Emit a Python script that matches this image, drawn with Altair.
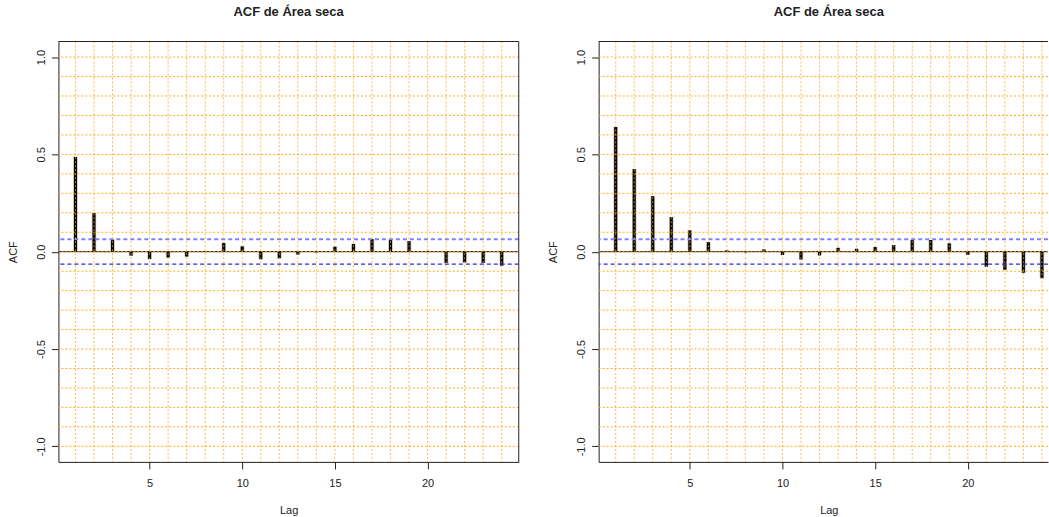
import altair as alt
import pandas as pd

# Autocorrelation estimates for lags 1..24 of the two series
lags = list(range(1, 25))
acf_left = [0.487, 0.199, 0.062, -0.020, -0.038, -0.030, -0.025, 0.002,
            0.045, 0.028, -0.039, -0.034, -0.015, -0.003, 0.026, 0.040,
            0.065, 0.062, 0.055, 0.004, -0.058, -0.055, -0.058, -0.072]
acf_right = [0.641, 0.425, 0.285, 0.178, 0.110, 0.050, 0.007, -0.003,
             0.012, -0.017, -0.040, -0.019, 0.020, 0.015, 0.024, 0.034,
             0.060, 0.060, 0.043, -0.017, -0.077, -0.093, -0.108, -0.136]
ci_bound = 0.064

x_ticks = [5, 10, 15, 20]
y_ticks = [-1.0, -0.5, 0.0, 0.5, 1.0]
grid_levels = [-1.0, -0.9, -0.8, -0.7, -0.6, -0.5, -0.4, -0.3, -0.2, -0.1, 0.0,
               0.1, 0.2, 0.3, 0.4, 0.5, 0.6, 0.7, 0.8, 0.9, 1.0]

TITLE = "ACF de Área seca"
FONT = "Liberation Sans"
INK = "#222222"
ORANGE = "#FFA500"
H = 421
PX_PER_LAG = 461 / 24.84


def panel(values, width, right_border, title_dx, lag_title_x):
    xmax = 0.08 + width / PX_PER_LAG
    df = pd.DataFrame({"lag": lags, "acf": values})
    xs = alt.Scale(domain=[0.08, xmax], nice=False, zero=False)
    ys = alt.Scale(domain=[-1.08, 1.08], nice=False, zero=False)
    xaxis = alt.Axis(
        values=x_ticks, format="d", title="Lag", grid=False,
        domain=True, domainColor=INK, tickColor=INK, tickSize=7,
        labelFont=FONT, labelFontSize=11, labelColor=INK, labelPadding=8.5,
        titleFont=FONT, titleFontSize=11, titleFontWeight="normal",
        titleColor=INK, titleX=lag_title_x, titleY=49,
        titleBaseline="middle", titleAlign="center",
    )
    yaxis = alt.Axis(
        values=y_ticks, title="ACF", grid=False,
        domain=True, domainColor=INK, tickColor=INK, tickSize=7,
        labelExpr="replace(format(datum.value, '.1f'), '\u2212', '-')",
        labelAngle=270, labelAlign="center", labelBaseline="bottom",
        labelPadding=5, labelFont=FONT, labelFontSize=11, labelColor=INK,
        titleFont=FONT, titleFontSize=11, titleFontWeight="normal",
        titleColor=INK, titleAngle=270, titleX=-45, titleY=H / 2,
        titleBaseline="middle", titleAlign="center",
    )
    X = alt.X("lag:Q", scale=xs, axis=xaxis)
    Y = alt.Y("acf:Q", scale=ys, axis=yaxis)

    halo = alt.Chart(df).mark_rule(color="#777777", strokeWidth=4.5, opacity=0.45).encode(
        x=X, y=Y, y2=alt.datum(0))
    bars = alt.Chart(df).mark_rule(color="black", strokeWidth=3).encode(
        x=X, y=Y, y2=alt.datum(0))
    zero = alt.Chart(pd.DataFrame({"acf": [0.0]})).mark_rule(
        color="black", strokeWidth=1).encode(y=Y)
    ci_up = alt.Chart(pd.DataFrame({"acf": [ci_bound]})).mark_rule(
        color="#7f7fff", strokeWidth=2, strokeDash=[4, 3]).encode(y=Y)
    ci_lo = alt.Chart(pd.DataFrame({"acf": [-ci_bound]})).mark_rule(
        color="#2a2ad8", strokeWidth=1.2, strokeDash=[4, 3]).encode(y=Y)
    hgrid = alt.Chart(pd.DataFrame({"acf": grid_levels})).mark_rule(
        color=ORANGE, strokeWidth=1, strokeDash=[2, 2], opacity=0.9).encode(y=Y)
    vgrid = alt.Chart(df).mark_rule(
        color=ORANGE, strokeWidth=1, strokeDash=[2, 2], opacity=0.75).encode(x=X)
    one = pd.DataFrame({"k": [0]})
    top = alt.Chart(one).mark_rule(color=INK, strokeWidth=1).encode(
        x=alt.value(0), x2=alt.value(width), y=alt.value(0))
    layers = [halo, bars, zero, ci_up, ci_lo, hgrid, vgrid, top]
    if right_border:
        layers.append(alt.Chart(one).mark_rule(color=INK, strokeWidth=1).encode(
            x=alt.value(width), y=alt.value(0), y2=alt.value(H)))
    return alt.layer(*layers).properties(
        width=width, height=H,
        title=alt.TitleParams(
            TITLE, font=FONT, fontSize=13, fontWeight="bold", color=INK,
            anchor="middle", baseline="alphabetic", offset=12, dx=title_dx),
    )


left = panel(acf_left, 461, True, 0, 230.5)
right = panel(acf_right, 450, False, 5.5, 230.5)

chart = alt.hconcat(left, right, spacing=80, bounds="flush").properties(
    padding={"left": 7.5, "top": 5.2, "right": 0, "bottom": 0},
    background="white",
).configure_view(stroke=None)

chart.save("out.html", embed_options={"renderer": "svg", "actions": False})
